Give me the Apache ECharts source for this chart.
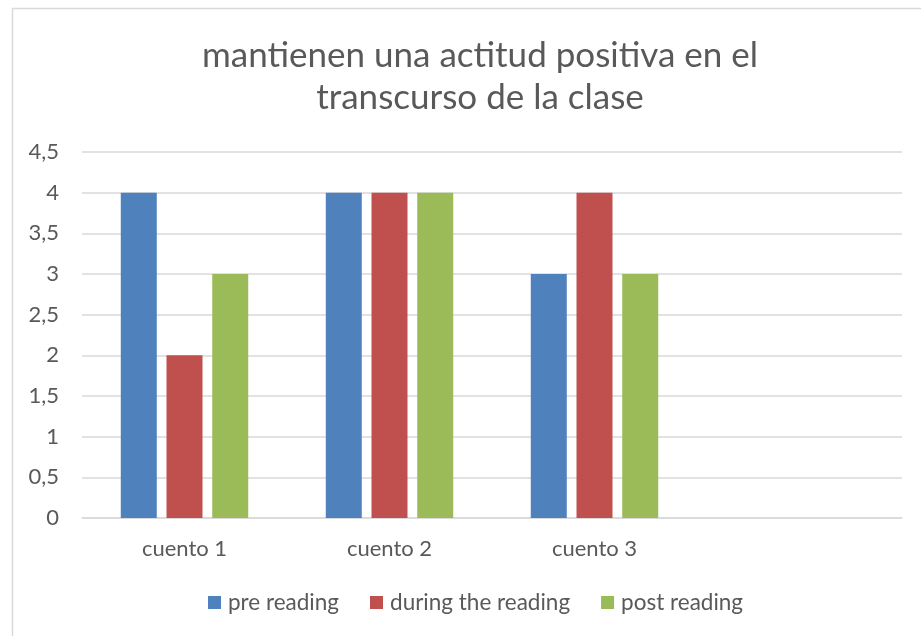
<!DOCTYPE html>
<html>
<head>
<meta charset="utf-8">
<script src="https://cdn.jsdelivr.net/npm/echarts@6/dist/echarts.min.js"></script>
<style>
  html, body { margin: 0; padding: 0; background: #fff; }
  #chart { width: 921px; height: 636px; }
</style>
</head>
<body>
<div id="chart"></div>
<script>
var categories = ['cuento 1', 'cuento 2', 'cuento 3', ''];
var preReading = [4, 4, 3, null];
var duringReading = [2, 4, 4, null];
var postReading = [3, 4, 3, null];
var yTicks = [0, 0.5, 1, 1.5, 2, 2.5, 3, 3.5, 4, 4.5];

var font = 'Lato, "Open Sans", sans-serif';
var txt = '#595959';

var chart = echarts.init(document.getElementById('chart'));

function bar(name, data, color) {
    return {
        name: name,
        type: 'bar',
        data: data,
        barWidth: 36,
        barGap: '27%',
        itemStyle: { color: color },
        emphasis: { disabled: true }
    };
}

chart.setOption({
    animation: false,
    color: ['#4f81bd', '#c0504d', '#9bbb59'],
    title: {
        text: 'mantienen una actitud positiva en el\ntranscurso de la clase',
        left: 475,
        textAlign: 'center',
        top: 30,
        textStyle: {
            fontFamily: font,
            fontWeight: 'normal',
            fontSize: 35,
            lineHeight: 42,
            color: txt
        }
    },
    legend: {
        bottom: 17,
        left: 203,
        itemWidth: 13,
        itemHeight: 13,
        itemGap: 31,
        icon: 'rect',
        textStyle: { fontFamily: font, fontSize: 22.5, color: txt, padding: [0, 0, 0, 2] }
    },
    graphic: [{
        type: 'rect',
        shape: { x: 12.5, y: 8.5, width: 1000, height: 1000 },
        style: { fill: 'none', stroke: '#d9d9d9', lineWidth: 1.5 },
        silent: true
    }],
    grid: { left: 82, right: 19, top: 152, bottom: 118 },
    xAxis: {
        type: 'category',
        data: categories,
        axisTick: { show: false },
        axisLine: { lineStyle: { color: '#d9d9d9', width: 1.5 } },
        axisLabel: { fontFamily: font, fontSize: 22, color: txt, margin: 20 }
    },
    yAxis: {
        type: 'value',
        min: yTicks[0],
        max: yTicks[yTicks.length - 1],
        interval: 0.5,
        axisLine: { show: false },
        axisTick: { show: false },
        splitLine: { lineStyle: { color: '#d9d9d9', width: 1.5 } },
        axisLabel: {
            fontFamily: font,
            fontSize: 22,
            color: txt,
            margin: 23,
            formatter: function (v) { return String(v).replace('.', ','); }
        }
    },
    series: [
        bar('pre reading', preReading, '#4f81bd'),
        bar('during the reading', duringReading, '#c0504d'),
        bar('post reading', postReading, '#9bbb59')
    ]
});
</script>
</body>
</html>
